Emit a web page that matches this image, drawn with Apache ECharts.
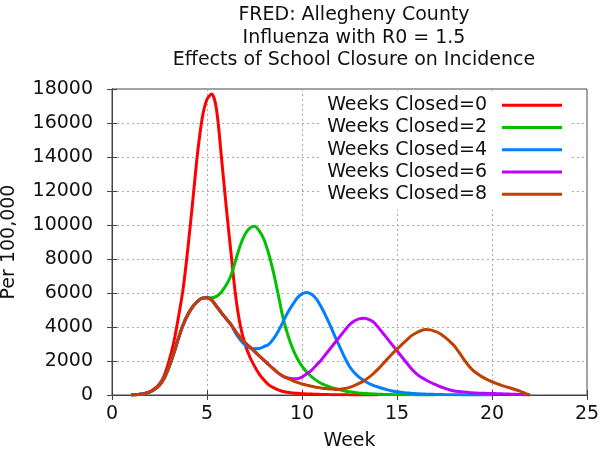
<!DOCTYPE html>
<html><head><meta charset="utf-8">
<script src="https://cdn.jsdelivr.net/npm/echarts@6/dist/echarts.min.js"></script>
<style>html,body{margin:0;padding:0;background:#fff}#c{width:600px;height:453px}</style>
</head><body><div id="c"></div>
<script>
const titleLines = ['FRED: Allegheny County', 'Influenza with R0 = 1.5', 'Effects of School Closure on Incidence'];
const xTicks = [0, 5, 10, 15, 20, 25];
const yTicks = [0, 2000, 4000, 6000, 8000, 10000, 12000, 14000, 16000, 18000];
const weeks = [
  1,1.25,1.5,1.75, 2,2.25,2.5,2.75, 3,3.25,3.5,3.75, 4,4.25,4.5,4.75, 5,5.25,5.5,5.75,
  6,6.25,6.5,6.75, 7,7.25,7.5,7.75, 8,8.25,8.5,8.75, 9,9.25,9.5,9.75, 10,10.25,10.5,10.75,
  11,11.25,11.5,11.75, 12,12.25,12.5,12.75, 13,13.25,13.5,13.75, 14,14.25,14.5,14.75,
  15,15.25,15.5,15.75, 16,16.25,16.5,16.75, 17,17.25,17.5,17.75, 18,18.25,18.5,18.75,
  19,19.25,19.5,19.75, 20,20.25,20.5,20.75, 21,21.25,21.5,21.75, 22];
const seriesNames = ['Weeks Closed=0','Weeks Closed=2','Weeks Closed=4','Weeks Closed=6','Weeks Closed=8'];
const closed0 = [
  0,10,40,100, 200,380,650,1150, 2000,3100,4600,6300, 8700,11400,14200,16300, 17400,17700,16800,14100,
  11200,8500,5900,4100, 3000,2250,1700,1230, 880,600,430,300, 210,160,120,100, 80,65,55,45,
  35,28,22,16, 12,9,6,4, 3,2,1,0, 0,null,null,null,
  null,null,null,null, null,null,null,null, null,null,null,null, null,null,null,null,
  null,null,null,null, null,null,null,null, null,null,null,null, null];
const closed2 = [
  0,10,40,90, 180,330,580,1000, 1650,2450,3350,4150, 4750,5200,5500,5700, 5730,5720,5800,6050,
  6450,7000,7900,8800, 9450,9820,9920,9650, 9150,8300,7200,5900, 4550,3550,2750,2150, 1700,1350,1080,860,
  690,560,460,380, 300,240,190,150, 120,95,75,60, 48,38,30,24,
  19,15,12,9, 7,5,3,2, 0,null,null,null, null,null,null,null,
  null,null,null,null, null,null,null,null, null,null,null,null, null];
const closed4 = [
  0,10,40,90, 180,330,580,1000, 1650,2450,3350,4150, 4750,5200,5500,5700, 5720,5580,5220,4850,
  4500,4180,3650,3250, 2950,2780,2720,2730, 2850,2980,3300,3750, 4300,4850,5300,5700, 5950,6030,5920,5650,
  5200,4650,4050,3400, 2800,2200,1680,1320, 1050,860,690,570, 470,380,300,240,
  190,155,125,100, 80,65,52,42, 34,27,21,16, 12,9,7,5,
  3,2,1,0, 0,null,null,null, null,null,null,null, null];
const closed6 = [
  0,10,40,90, 180,330,580,1000, 1650,2450,3350,4150, 4750,5200,5500,5700, 5720,5580,5220,4850,
  4500,4150,3750,3380, 3080,2830,2570,2300, 2050,1780,1530,1290, 1100,1000,950,960, 1050,1250,1450,1750,
  2050,2400,2750,3100, 3450,3800,4130,4350, 4480,4510,4450,4300, 4000,3650,3300,2950,
  2600,2250,1900,1560, 1270,1060,900,750, 620,500,400,310, 240,200,170,150,
  130,115,105,95, 90,80,70,60, 50,40,25,10, 0];
const closed8 = [
  0,10,40,90, 180,330,580,1000, 1650,2450,3350,4150, 4750,5200,5500,5700, 5720,5580,5220,4850,
  4500,4150,3750,3380, 3080,2830,2570,2300, 2050,1780,1530,1300, 1120,980,850,740, 650,580,510,460,
  410,380,350,330, 340,380,450,550, 680,830,1020,1250, 1520,1820,2130,2430,
  2700,2960,3220,3480, 3650,3780,3850,3830, 3740,3620,3420,3180, 2910,2530,2130,1750,
  1450,1230,1050,900, 780,670,570,480, 400,310,210,100, 0];
const allSeries = [closed0, closed2, closed4, closed6, closed8];
const colors = ['#ff0000','#00c000','#0080ff','#c000ff','#c04000'];

const font = 'DejaVu Sans';
const chart = echarts.init(document.getElementById('c'));
const axisCommon = {
  axisLine: {show: true, lineStyle: {color: '#444', width: 1}},
  axisTick: {show: true, inside: true, length: 5, lineStyle: {color: '#444'}},
};
chart.setOption({
  animation: false,
  backgroundColor: '#fff',
  title: {
    text: titleLines.join('\n'),
    left: 349, top: -1, textAlign: 'center',
    textStyle: {fontFamily: font, fontSize: 19, fontWeight: 'normal', color: '#111', lineHeight: 22.5}
  },
  grid: {left: 112, right: 13, top: 89, bottom: 58, outerBoundsMode: 'none', containLabel: false,
         show: true, borderColor: '#444', borderWidth: 1, backgroundColor: 'transparent'},
  legend: {
    data: seriesNames,
    orient: 'vertical', right: 30, top: 92,
    align: 'right',
    icon: 'rect', itemWidth: 60, itemHeight: 3, itemGap: 0,
    backgroundColor: '#fff', padding: [2, 8, 4, 8],
    textStyle: {fontFamily: font, fontSize: 19, lineHeight: 22.3, color: '#111', padding: [0, 10, 0, 0]}
  },
  xAxis: [{
    type: 'value', min: xTicks[0], max: xTicks[xTicks.length-1], interval: 5,
    name: 'Week', nameLocation: 'middle', nameGap: 37,
    nameTextStyle: {fontFamily: font, fontSize: 19, color: '#111'},
    axisLabel: {fontFamily: font, fontSize: 19, color: '#111', margin: 10},
    splitLine: {show: true, lineStyle: {color: '#aaa', type: [2, 3], width: 1}},
    ...axisCommon
  }, {
    type: 'value', position: 'top', min: 0, max: 25, interval: 5,
    axisLabel: {show: false}, splitLine: {show: false}, ...axisCommon
  }],
  yAxis: [{
    type: 'value', min: yTicks[0], max: yTicks[yTicks.length-1], interval: 2000,
    name: 'Per 100,000', nameLocation: 'middle', nameGap: 93,
    nameTextStyle: {fontFamily: font, fontSize: 19, color: '#111'},
    axisLabel: {fontFamily: font, fontSize: 19, color: '#111', margin: 19, formatter: v => String(v)},
    splitLine: {show: true, lineStyle: {color: '#aaa', type: [2, 3], width: 1}},
    ...axisCommon
  }, {
    type: 'value', position: 'right', min: 0, max: 18000, interval: 2000,
    axisLabel: {show: false}, splitLine: {show: false}, ...axisCommon
  }],
  series: allSeries.map((vals, k) => ({
    name: seriesNames[k], type: 'line',
    data: weeks.map((w, i) => [w, vals[i]]),
    smooth: 0.3, showSymbol: false, connectNulls: false,
    lineStyle: {color: colors[k], width: 3},
    itemStyle: {color: colors[k]}
  }))
});
</script></body></html>
